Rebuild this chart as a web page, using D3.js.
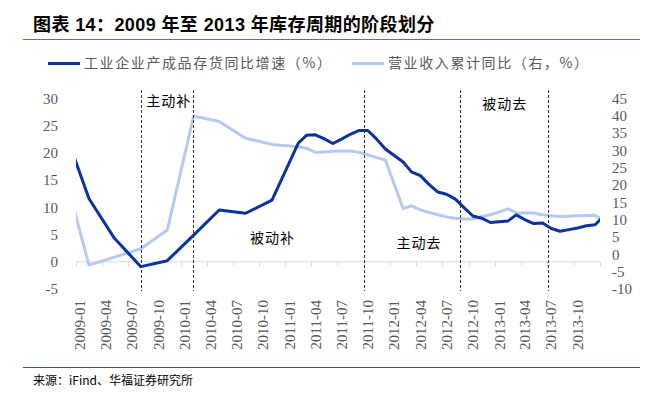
<!DOCTYPE html>
<html>
<head>
<meta charset="utf-8">
<script src="https://cdn.jsdelivr.net/npm/d3@7"></script>
<style>
body { margin: 0; background: #fff; }
svg { display: block; }
</style>
</head>
<body>
<svg width="653" height="396"></svg>
<script>
// 工业企业产成品存货同比增速（%） - left axis
var invMonths = ["2008-11","2009-02","2009-05","2009-08","2009-11","2010-02","2010-05","2010-08","2010-11",
  "2011-02","2011-03","2011-04","2011-05","2011-06","2011-07","2011-08","2011-09","2011-10","2011-11","2011-12",
  "2012-02","2012-03","2012-04","2012-05","2012-06","2012-07","2012-08","2012-09","2012-10","2012-11","2012-12",
  "2013-02","2013-03","2013-04","2013-05","2013-06","2013-07","2013-08","2013-09","2013-10","2013-11","2013-12","2014-01"];
var invValues = [25.2, 11.6, 4.3, -0.9, 0.2, 4.9, 9.5, 8.9, 11.3,
  21.8, 23.2, 23.3, 22.6, 21.7, 22.5, 23.4, 24.1, 24.1, 22.5, 20.7,
  18.3, 16.5, 15.8, 14.2, 12.8, 12.4, 11.5, 9.9, 8.4, 8.0, 7.2,
  7.5, 8.6, 7.7, 7.0, 7.1, 6.1, 5.6, 5.9, 6.2, 6.6, 6.8, 8.4];

// 营业收入累计同比（右，%） - right axis
var revMonths = invMonths;
var revValues = [25.6, -3.1, -0.8, 1.6, 7.0, 39.9, 38.3, 33.5, 31.7,
  31.0, 30.6, 29.4, 29.5, 29.7, 29.8, 29.8, 29.4, 28.7, 27.9, 27.2,
  13.2, 14.0, 12.8, 12.1, 11.4, 10.8, 10.4, 10.2, 10.2, 10.9, 11.4,
  13.1, 12.0, 11.9, 11.9, 11.4, 11.1, 10.9, 11.0, 11.1, 11.2, 11.3, 9.6];

var tickLabels = ["2009-01","2009-04","2009-07","2009-10","2010-01","2010-04","2010-07","2010-10",
  "2011-01","2011-04","2011-07","2011-10","2012-01","2012-04","2012-07","2012-10",
  "2013-01","2013-04","2013-07","2013-10"];
var leftTicks = [-5, 0, 5, 10, 15, 20, 25, 30];
var rightTicks = [-10, -5, 0, 5, 10, 15, 20, 25, 30, 35, 40, 45];

// phase boundaries and labels
var phaseLines = ["2009-08-16","2010-02-14","2011-10-03","2012-09-01","2013-07-03"];
var phaseNames = ["主动补","被动补","主动去","被动去"];
var phaseDates = ["2009-11-20","2010-11-17","2012-04-10","2013-02-03"];
var phaseLevels = [29.4, 4.4, 3.4, 29.0];

var svg = d3.select("svg");
var plotL = 76, plotR = 600, plotT = 98.3, plotB = 289;
var grey = "#595959";
var darkBlue = "#0a33a0", lightBlue = "#b5c9f6";
var cjk = "'Noto Sans CJK SC', sans-serif";
var serif = "'Liberation Serif', 'Times New Roman', serif";

function monthDate(s) { var p = s.split("-"); return new Date(+p[0], +p[1] - 1, 15); }
var parseDay = d3.timeParse("%Y-%m-%d");

var x = d3.scaleTime().domain([new Date(2009, 0, 1), new Date(2014, 0, 1)]).range([plotL, plotR]);
var yL = d3.scaleLinear().domain([-5, 30]).range([plotB, plotT]);
var yR = d3.scaleLinear().domain([-10, 45]).range([plotB, plotT]);

// title
svg.append("text").attr("x", 33).attr("y", 31)
  .style("font-family", "'Liberation Sans', " + cjk).style("font-weight", "bold").style("font-size", "18px")
  .style("letter-spacing", "0.4px")
  .attr("fill", "#000").text("图表 14：2009 年至 2013 年库存周期的阶段划分");
svg.append("line").attr("x1", 23).attr("x2", 640).attr("y1", 39.5).attr("y2", 39.5)
  .attr("stroke", "#4a74bd").attr("stroke-width", 1);

// legend
var legend = [{name: "工业企业产成品存货同比增速（%）", color: darkBlue, x: 48},
              {name: "营业收入累计同比（右，%）", color: lightBlue, x: 352}];
var lg = svg.append("g").selectAll("g").data(legend).enter().append("g")
  .attr("transform", function(d) { return "translate(" + d.x + ",63.5)"; });
lg.append("line").attr("x1", 0).attr("x2", 32).attr("stroke", function(d) { return d.color; }).attr("stroke-width", 3);
lg.append("text").attr("x", 36).attr("dy", "0.35em")
  .style("font-family", cjk).style("font-size", "14px").style("letter-spacing", "1.6px")
  .attr("fill", grey).text(function(d) { return d.name; });

// x axis line + ticks
svg.append("line").attr("x1", plotL).attr("x2", plotR).attr("y1", yL(0)).attr("y2", yL(0))
  .attr("stroke", "#d9d9d9").attr("stroke-width", 1);
var tickDates = d3.timeMonth.every(3).range(new Date(2009, 0, 1), new Date(2014, 0, 2));
svg.append("g").selectAll("line").data(tickDates).enter().append("line")
  .attr("x1", function(d) { return Math.round(x(d)) + 0.5; })
  .attr("x2", function(d) { return Math.round(x(d)) + 0.5; })
  .attr("y1", yL(0)).attr("y2", yL(0) + 5)
  .attr("stroke", "#d9d9d9");

// x labels, rotated
svg.append("g").selectAll("text").data(tickLabels).enter().append("text")
  .attr("transform", function(d) { return "translate(" + x(monthDate(d)) + ",300) rotate(-90)"; })
  .attr("text-anchor", "end").attr("dy", "0.35em")
  .style("font-family", serif).style("font-size", "15px").attr("fill", grey)
  .text(function(d) { return d; });

// left axis labels
svg.append("g").selectAll("text").data(leftTicks).enter().append("text")
  .attr("x", 58).attr("y", function(d) { return yL(d); }).attr("dy", "0.35em")
  .attr("text-anchor", "end")
  .style("font-family", serif).style("font-size", "15px").attr("fill", grey)
  .text(function(d) { return d; });

// right axis labels
svg.append("g").selectAll("text").data(rightTicks).enter().append("text")
  .attr("x", 612).attr("y", function(d) { return yR(d); }).attr("dy", "0.35em")
  .style("font-family", serif).style("font-size", "15px").attr("fill", grey)
  .text(function(d) { return d; });

// clip to the plot area
svg.append("defs").append("clipPath").attr("id", "plot")
  .append("rect").attr("x", plotL).attr("y", 80).attr("width", plotR - plotL).attr("height", 220);

var lineL = d3.line().x(function(d) { return x(monthDate(d[0])); }).y(function(d) { return yL(d[1]); });
var lineR = d3.line().x(function(d) { return x(monthDate(d[0])); }).y(function(d) { return yR(d[1]); });

var plot = svg.append("g").attr("clip-path", "url(#plot)");
plot.append("path").datum(d3.zip(revMonths, revValues))
  .attr("d", lineR).attr("fill", "none").attr("stroke", lightBlue).attr("stroke-width", 3)
  .attr("stroke-linejoin", "round");
plot.append("path").datum(d3.zip(invMonths, invValues))
  .attr("d", lineL).attr("fill", "none").attr("stroke", darkBlue).attr("stroke-width", 3)
  .attr("stroke-linejoin", "round");

// phase dividers
svg.append("g").selectAll("line").data(phaseLines).enter().append("line")
  .attr("x1", function(d) { return Math.round(x(parseDay(d))) + 0.5; })
  .attr("x2", function(d) { return Math.round(x(parseDay(d))) + 0.5; })
  .attr("y1", 90).attr("y2", 291)
  .attr("stroke", "#333").attr("stroke-width", 1).attr("stroke-dasharray", "3,2");

svg.append("g").selectAll("text").data(phaseNames).enter().append("text")
  .attr("x", function(d, i) { return x(parseDay(phaseDates[i])); })
  .attr("y", function(d, i) { return yL(phaseLevels[i]); })
  .attr("text-anchor", "middle").attr("dy", "0.35em")
  .style("font-family", cjk).style("font-size", "14px").style("letter-spacing", "1px")
  .attr("fill", "#000").text(function(d) { return d; });

// footer
svg.append("line").attr("x1", 23).attr("x2", 640).attr("y1", 367.5).attr("y2", 367.5)
  .attr("stroke", "#2f5a93").attr("stroke-width", 1);
svg.append("text").attr("x", 33).attr("y", 381).attr("dy", "0.35em")
  .style("font-family", cjk).style("font-size", "12px").attr("fill", "#000")
  .text("来源：iFind、华福证券研究所");
</script>
</body>
</html>
